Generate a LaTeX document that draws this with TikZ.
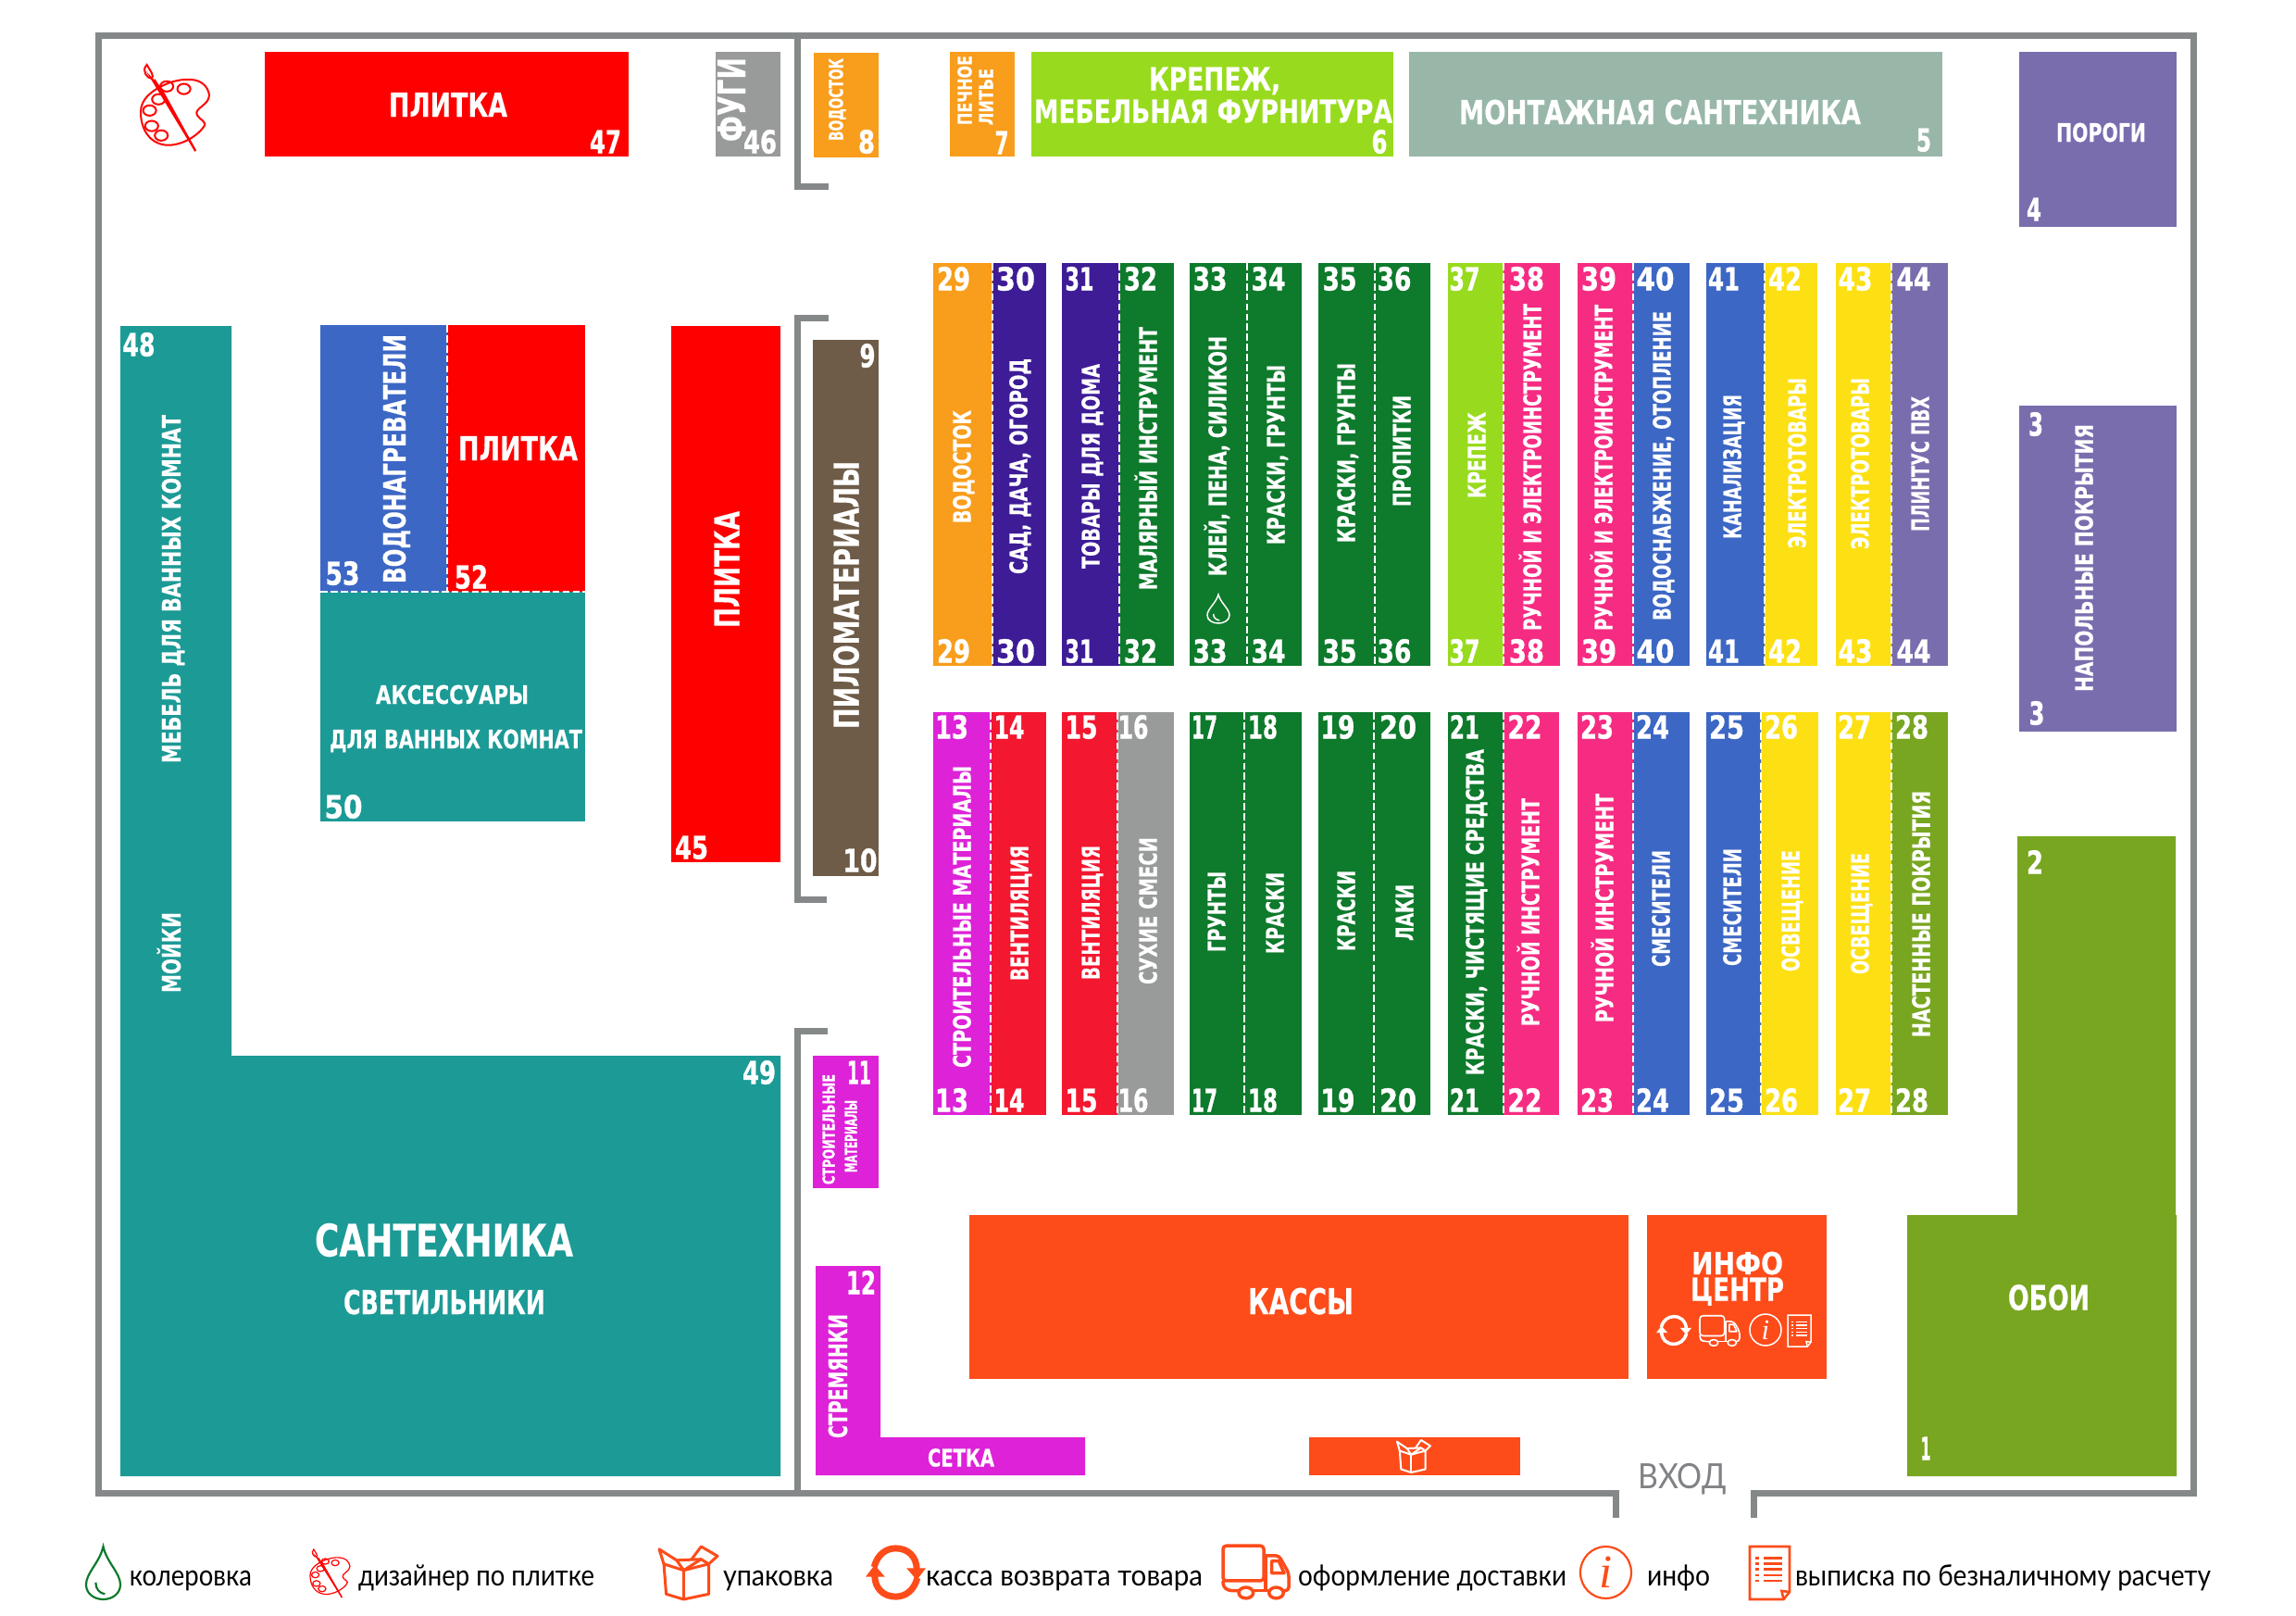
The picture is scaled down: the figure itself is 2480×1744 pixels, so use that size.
\documentclass[tikz,border=0pt]{standalone}
\usepackage{fontspec}
\usepackage{graphicx}
\setmainfont{DejaVu Sans}
\newfontfamily\labf{DejaVu Sans}[BoldFeatures={FakeBold=0.4}]
\newfontfamily\numf{DejaVu Sans}[BoldFeatures={FakeBold=1.2}]
\newfontfamily\legfont{Lato}
\newfontfamily\ifont{Liberation Serif}
\definecolor{cWall}{HTML}{858889}
\definecolor{cOrange}{HTML}{F99D1C}
\definecolor{cPurple}{HTML}{3E1C96}
\definecolor{cGreen}{HTML}{0E7A2C}
\definecolor{cCrimson}{HTML}{F3172F}
\definecolor{cMagenta}{HTML}{DD22D8}
\definecolor{cGrey}{HTML}{999B9A}
\definecolor{cLime}{HTML}{98DB1E}
\definecolor{cPink}{HTML}{F62C82}
\definecolor{cBlue}{HTML}{3C67C4}
\definecolor{cYellow}{HTML}{FCE014}
\definecolor{cViolet}{HTML}{7A6DAE}
\definecolor{cOlive}{HTML}{78A620}
\definecolor{cTeal}{HTML}{1C9A96}
\definecolor{cBrown}{HTML}{6E5C48}
\definecolor{cSea}{HTML}{98B7A8}
\definecolor{cRedOr}{HTML}{FD4C1A}
\definecolor{cRed}{HTML}{FF0000}
\definecolor{cVhod}{HTML}{808285}
\newdimen\pxu \pxu=0.01cm
\newsavebox\lbox
\newcount\nc
\newcommand\capfit[3]{\sbox\lbox{\labf\bfseries #3}\ht\lbox=7.29pt \dp\lbox=0pt \resizebox{#1}{#2}{\usebox\lbox}}
\newcommand\numfit[3]{\sbox\lbox{\numf\bfseries #3}\ht\lbox=7.29pt \dp\lbox=0pt \resizebox{#1}{#2}{\usebox\lbox}}
\newcommand\xfit[3]{\sbox\lbox{\legfont #3}\ht\lbox=5.06pt \dp\lbox=0pt \resizebox{#1}{#2}{\usebox\lbox}}
\newcommand\vfitcap[3]{\sbox\lbox{\legfont #3}\ht\lbox=7.2pt \dp\lbox=0pt \resizebox{#1}{#2}{\usebox\lbox}}
% vertical label: cx, y1, y2, thickness, text
\newcommand\vl[5]{\global\advance\nc by 1
  \node[lab,rotate=90] (t\the\nc) at (#1,{(#2+#3)/2}) {\capfit{\dimexpr\pxu*(#3-#2)\relax}{#4\pxu}{#5}};}
% horizontal label: x1, x2, cy, thickness, text
\newcommand\hl[5]{\global\advance\nc by 1
  \node[lab] (t\the\nc) at ({(#1+#2)/2},#3) {\capfit{\dimexpr\pxu*(#2-#1)\relax}{#4\pxu}{#5}};}
% number: cx, width, cy, text
\newcommand\nn[4]{\global\advance\nc by 1
  \node[lab] (t\the\nc) at (#1,#3) {\numfit{#2\pxu}{25\pxu}{#4}};}
% legend text: x1, x2, text
\newcommand\leg[3]{\global\advance\nc by 1
  \node[lab,text=black] (t\the\nc) at ({(#1+#2)/2},1704) {\xfit{\dimexpr\pxu*(#2-#1)\relax}{16\pxu}{#3}};}
\newcommand\zone[5]{\fill[#5] (#1,#2) rectangle (#3,#4);}
\newcommand\shelf[7]{\fill[#6] (#1,#4) rectangle (#2,#5); \fill[#7] (#2,#4) rectangle (#3,#5);
  \draw[divd] (#2,#4) -- (#2,#5);}
% icons: x1,y1,x2,y2,colour,line width(px)
\newcommand\icondrop[6]{\begin{scope}[shift={(#1,#2)},xscale={#3-#1},yscale={#4-#2},draw=#5,line width=#6\pxu]
  \draw (.5,0) .. controls (.6,.3) and (1,.5) .. (1,.72) .. controls (1,.9) and (.75,1) .. (.5,1)
     .. controls (.25,1) and (0,.9) .. (0,.72) .. controls (0,.5) and (.4,.3) .. (.5,0) -- cycle;
  \draw (.28,.68) .. controls (.28,.8) and (.38,.88) .. (.55,.9);
\end{scope}}
\newcommand\iconpal[6]{\begin{scope}[shift={(#1,#2)},xscale={#3-#1},yscale={#4-#2},draw=#5,line width=#6\pxu]
  \draw (.38,.22) .. controls (.6,.15) and (.95,.12) .. (1,.35) .. controls (1,.47) and (.78,.5) .. (.82,.58)
     .. controls (.86,.64) and (.98,.66) .. (.92,.72) .. controls (.8,.85) and (.55,.95) .. (.35,.93)
     .. controls (.1,.9) and (0,.72) .. (0,.55) .. controls (0,.4) and (.15,.3) .. (.38,.22) -- cycle;
  \foreach \a/\b in {.38/.25,.63/.28,.26/.4,.13/.53,.16/.71,.3/.82}
    \draw (\a,\b) ellipse [x radius=.095,y radius=.06];
  \draw (.09,0) .. controls (.0,.07) and (.1,.16) .. (.16,.16) .. controls (.2,.13) and (.15,.08) .. (.09,0) -- cycle;
  \draw (.16,.16) -- (.8,1) -- (.3,.28) -- cycle;
  \draw (.2,.17) -- (.8,1);
\end{scope}}
\newcommand\iconbox[6]{\begin{scope}[shift={(#1,#2)},xscale={#3-#1},yscale={#4-#2},draw=#5,line width=#6\pxu,line join=round]
  \draw (.08,.33) -- (.42,.45) -- (.85,.33) -- (.85,.9) -- (.42,1) -- (.12,.9) -- cycle;
  \draw (.42,.45) -- (.42,1);
  \draw (.08,.33) -- (0,.05) -- (.3,.26) -- (.72,.24) -- (.85,.33);
  \draw (.55,.25) -- (.72,0) -- (1,.18) -- (.85,.33);
  \draw (.3,.26) -- (.42,.45) -- (.72,.24);
\end{scope}}
\newcommand\iconref[6]{\begin{scope}[shift={(#1,#2)},xscale={#3-#1},yscale={#4-#2},draw=#5,fill=#5,line width=#6\pxu]
  \draw (.14,.4) .. controls (.2,.15) and (.35,.05) .. (.5,.05) .. controls (.7,.05) and (.85,.2) .. (.85,.45);
  \fill (.68,.42) -- (1,.42) -- (.85,.64) -- cycle;
  \draw (.86,.6) .. controls (.8,.85) and (.65,.95) .. (.5,.95) .. controls (.3,.95) and (.15,.8) .. (.15,.55);
  \fill (0,.58) -- (.32,.58) -- (.15,.36) -- cycle;
\end{scope}}
\newcommand\icontruck[6]{\begin{scope}[shift={(#1,#2)},xscale={#3-#1},yscale={#4-#2},draw=#5,line width=#6\pxu,line join=round]
  \draw[rounded corners=1pt] (0,.02) rectangle (.62,.66);
  \draw[rounded corners=1pt] (.65,.2) -- (.85,.2) -- (1,.52) -- (1,.84) -- (.92,.84);
  \draw (.65,.2) -- (.65,.82);
  \draw (.74,.3) -- (.85,.3) -- (.93,.52) -- (.74,.52) -- cycle;
  \draw[rounded corners=1pt] (.24,.84) -- (.08,.84) -- (0,.76) -- (0,.66);
  \draw (.46,.84) -- (.7,.84);
  \draw (.35,.88) ellipse [x radius=.11,y radius=.1];
  \draw (.81,.88) ellipse [x radius=.11,y radius=.1];
\end{scope}}
\newcommand\icondoc[6]{\begin{scope}[shift={(#1,#2)},xscale={#3-#1},yscale={#4-#2},draw=#5,line width=#6\pxu]
  \draw (0,0) -- (1,0) -- (1,.86) -- (.85,1) -- (0,1) -- cycle;
  \draw (1,.86) -- (.8,.84) -- (.85,1);
  \foreach \b in {.22,.32,.43,.54,.65} { \draw (.35,\b) -- (.82,\b); \draw (.14,\b) -- (.24,\b); }
\end{scope}}
\newcommand\iconinfo[6]{\draw[#5,line width=#6\pxu] ({(#1+#3)/2},{(#2+#4)/2}) ellipse [x radius={(#3-#1)/2},y radius={(#4-#2)/2}];
  \global\advance\nc by 1
  \node[lab,text=#5] (t\the\nc) at ({(#1+#3)/2},{(#2+#4)/2}) {\resizebox{!}{\dimexpr\pxu*(#4-#2)*6/10\relax}{\ifont\itshape i}};}
\tikzset{
  lab/.style={inner sep=0pt,outer sep=0pt,text=white,anchor=center},
  wall/.style={draw=cWall,line width=7\pxu,line cap=butt,miter limit=10},
  divd/.style={draw=white,line width=2\pxu,dash pattern=on 2.2pt off .9pt}
}
\begin{document}
\begin{tikzpicture}[x=0.01cm,y=-0.01cm]
\useasboundingbox (0,0) rectangle (2480,1744);
\fill[white] (0,0) rectangle (2480,1744);
% walls
\draw[wall] (1745,1639) -- (1745,1612.5) -- (106.5,1612.5) -- (106.5,38) -- (2369.5,38) -- (2369.5,1612.5) -- (1894,1612.5) -- (1894,1639);
\draw[wall] (861,38) -- (861,201) -- (895,201);
\draw[wall] (895,343.5) -- (861,343.5) -- (861,971.5) -- (893,971.5);
\draw[wall] (894,1113) -- (861,1113) -- (861,1612);
% zones top
\zone{286}{56}{679}{169}{cRed}
\zone{773}{56}{843}{169}{cGrey}
\zone{879}{57}{949}{170}{cOrange}
\zone{1026}{56}{1096}{169}{cOrange}
\zone{1114}{56}{1505}{169}{cLime}
\zone{1522}{56}{2098}{169}{cSea}
\zone{2181}{56}{2351}{245}{cViolet}
\zone{2181}{438}{2351}{790}{cViolet}
% olive L
\fill[cOlive] (2179,903) -- (2350,903) -- (2350,1312) -- (2351,1312) -- (2351,1594) -- (2060,1594) -- (2060,1312) -- (2179,1312) -- cycle;
% teal L
\fill[cTeal] (130,352) -- (250,352) -- (250,1140) -- (843,1140) -- (843,1594) -- (130,1594) -- cycle;
% block
\zone{346}{351}{483}{639}{cBlue}
\zone{483}{351}{632}{639}{cRed}
\zone{346}{639}{632}{887}{cTeal}
\draw[divd] (483,351) -- (483,638);
\draw[divd] (346,639) -- (632,639);
\zone{725}{352}{843}{931}{cRed}
\zone{878}{367}{949}{946}{cBrown}
\zone{878}{1140}{949}{1283}{cMagenta}
\fill[cMagenta] (881,1367) -- (951,1367) -- (951,1552) -- (1172,1552) -- (1172,1593) -- (881,1593) -- cycle;
\zone{1047}{1312}{1759}{1489}{cRedOr}
\zone{1779}{1312}{1973}{1489}{cRedOr}
\zone{1414}{1552}{1642}{1593}{cRedOr}
% shelves row 1
\shelf{1008}{1072}{1130}{284}{719}{cOrange}{cPurple}
\shelf{1147}{1209}{1268}{284}{719}{cPurple}{cGreen}
\shelf{1285}{1347}{1406}{284}{719}{cGreen}{cGreen}
\shelf{1424}{1485}{1545}{284}{719}{cGreen}{cGreen}
\shelf{1564}{1624}{1685}{284}{719}{cLime}{cPink}
\shelf{1704}{1764}{1825}{284}{719}{cPink}{cBlue}
\shelf{1843}{1906}{1963}{284}{719}{cBlue}{cYellow}
\shelf{1983}{2043}{2104}{284}{719}{cYellow}{cViolet}
% shelves row 2
\shelf{1008}{1070}{1130}{769}{1204}{cMagenta}{cCrimson}
\shelf{1147}{1207}{1268}{769}{1204}{cCrimson}{cGrey}
\shelf{1285}{1344}{1406}{769}{1204}{cGreen}{cGreen}
\shelf{1424}{1484}{1545}{769}{1204}{cGreen}{cGreen}
\shelf{1564}{1624}{1684}{769}{1204}{cGreen}{cPink}
\shelf{1704}{1764}{1825}{769}{1204}{cPink}{cBlue}
\shelf{1843}{1902}{1964}{769}{1204}{cBlue}{cYellow}
\shelf{1983}{2043}{2104}{769}{1204}{cYellow}{cOlive}
% numbers rows
\foreach \n/\c/\w in {29/1030/36,30/1097/42,31/1166/31,32/1232/36,33/1307/37,34/1370/37,35/1447/37,36/1506/37,37/1582/33,38/1649/38,39/1727/38,40/1788/41,41/1862/34,42/1928/36,43/2004/37,44/2067/37}{
  \nn{\c}{\w}{301}{\n}
  \nn{\c}{\w}{703}{\n}
}
\foreach \n/\c/\w in {13/1028/36,14/1090/33,15/1168/35,16/1224/33,17/1301/28,18/1364/32,19/1445/37,20/1510/40,21/1582/32,22/1647/37,23/1725/36,24/1785/36,25/1865/38,26/1924/36,27/2003/36,28/2065/36}{
  \nn{\c}{\w}{785}{\n}
  \nn{\c}{\w}{1188}{\n}
}
% labels row 1
\vl{1039}{443}{565}{19}{ВОДОСТОК}
\vl{1100}{387}{620}{19}{САД, ДАЧА, ОГОРОД}
\vl{1178}{393}{614}{19}{ТОВАРЫ ДЛЯ ДОМА}
\vl{1240}{353}{637}{19}{МАЛЯРНЫЙ ИНСТРУМЕНТ}
\vl{1315}{363}{622}{19}{КЛЕЙ, ПЕНА, СИЛИКОН}
\vl{1378}{394}{588}{19}{КРАСКИ, ГРУНТЫ}
\vl{1454}{392}{586}{19}{КРАСКИ, ГРУНТЫ}
\vl{1514}{427}{547}{19}{ПРОПИТКИ}
\vl{1595}{445}{538}{19}{КРЕПЕЖ}
\vl{1655}{328}{681}{19}{РУЧНОЙ И ЭЛЕКТРОИНСТРУМЕНТ}
\vl{1732}{329}{681}{19}{РУЧНОЙ И ЭЛЕКТРОИНСТРУМЕНТ}
\vl{1795}{336}{670}{19}{ВОДОСНАБЖЕНИЕ, ОТОПЛЕНИЕ}
\vl{1871}{426}{582}{19}{КАНАЛИЗАЦИЯ}
\vl{1941}{408}{592}{19}{ЭЛЕКТРОТОВАРЫ}
\vl{2009}{408}{593}{19}{ЭЛЕКТРОТОВАРЫ}
\vl{2074}{428}{574}{19}{ПЛИНТУС ПВХ}
% labels row 2
\vl{1039}{827}{1153}{19}{СТРОИТЕЛЬНЫЕ МАТЕРИАЛЫ}
\vl{1101}{913}{1059}{19}{ВЕНТИЛЯЦИЯ}
\vl{1178}{913}{1058}{19}{ВЕНТИЛЯЦИЯ}
\vl{1240}{904}{1063}{19}{СУХИЕ СМЕСИ}
\vl{1314}{941}{1028}{19}{ГРУНТЫ}
\vl{1377}{942}{1030}{19}{КРАСКИ}
\vl{1454}{940}{1027}{19}{КРАСКИ}
\vl{1517}{955}{1016}{19}{ЛАКИ}
\vl{1593}{809}{1161}{19}{КРАСКИ, ЧИСТЯЩИЕ СРЕДСТВА}
\vl{1653}{862}{1108}{19}{РУЧНОЙ ИНСТРУМЕНТ}
\vl{1733}{857}{1104}{19}{РУЧНОЙ ИНСТРУМЕНТ}
\vl{1794}{918}{1044}{19}{СМЕСИТЕЛИ}
\vl{1871}{916}{1043}{19}{СМЕСИТЕЛИ}
\vl{1934}{918}{1049}{19}{ОСВЕЩЕНИЕ}
\vl{2009}{921}{1052}{19}{ОСВЕЩЕНИЕ}
\vl{2075}{854}{1120}{19}{НАСТЕННЫЕ ПОКРЫТИЯ}
% other labels
\hl{420}{548}{113}{26}{ПЛИТКА}
\vl{790}{62}{153}{30}{ФУГИ}
\vl{903}{63}{152}{15}{ВОДОСТОК}
\vl{1042}{60}{135}{15}{ПЕЧНОЕ}
\vl{1065}{74}{135}{15}{ЛИТЬЕ}
\hl{1241}{1383}{85}{25}{КРЕПЕЖ,}
\hl{1117}{1504}{120}{25}{МЕБЕЛЬНАЯ ФУРНИТУРА}
\hl{1576}{2010}{121}{26}{МОНТАЖНАЯ САНТЕХНИКА}
\hl{2221}{2318}{143}{20}{ПОРОГИ}
\vl{2251}{458}{747}{19}{НАПОЛЬНЫЕ ПОКРЫТИЯ}
\vl{185}{448}{824}{20}{МЕБЕЛЬ ДЛЯ ВАННЫХ КОМНАТ}
\vl{185}{985}{1072}{20}{МОЙКИ}
\vl{426}{361}{630}{24}{ВОДОНАГРЕВАТЕЛИ}
\hl{495}{624}{484}{26}{ПЛИТКА}
\vl{785}{552}{678}{27}{ПЛИТКА}
\vl{914}{498}{787}{27}{ПИЛОМАТЕРИАЛЫ}
\hl{406}{571}{750}{20}{АКСЕССУАРЫ}
\hl{356}{629}{798}{20}{ДЛЯ ВАННЫХ КОМНАТ}
\hl{340}{619}{1339}{35}{САНТЕХНИКА}
\hl{371}{589}{1406}{26}{СВЕТИЛЬНИКИ}
\vl{895}{1160}{1279}{13}{СТРОИТЕЛЬНЫЕ}
\vl{919}{1188}{1266}{13}{МАТЕРИАЛЫ}
\vl{905}{1419}{1553}{20}{СТРЕМЯНКИ}
\hl{1002}{1074}{1574}{19}{СЕТКА}
\hl{1348}{1462}{1405}{28}{КАССЫ}
\hl{1827}{1926}{1364}{24}{ИНФО}
\hl{1826}{1927}{1392}{25}{ЦЕНТР}
\hl{2169}{2257}{1401}{27}{ОБОИ}
% other numbers
\nn{654}{34}{153}{47}
\nn{821}{36}{153}{46}
\nn{936}{18}{153}{8}
\nn{1082}{15}{154}{7}
\nn{1490}{17}{153}{6}
\nn{2078}{16}{151}{5}
\nn{2197}{16}{226}{4}
\nn{2199}{16}{458}{3}
\nn{2200}{17}{770}{3}
\nn{2198}{18}{931}{2}
\nn{2080}{11}{1564}{1}
\nn{150}{35}{372}{48}
\nn{820}{36}{1158}{49}
\nn{370}{37}{619}{53}
\nn{509}{36}{623}{52}
\nn{371}{41}{871}{50}
\nn{747}{36}{915}{45}
\nn{937}{17}{384}{9}
\nn{929}{37}{929}{10}
\nn{928}{26}{1158}{11}
\nn{930}{32}{1385}{12}
% ВХОД
\global\advance\nc by 1
\node[lab,text=cVhod] (t\the\nc) at (1817,1594) {\vfitcap{95\pxu}{27\pxu}{ВХОД}};
% icons on the plan
\iconpal{152}{70}{226}{163}{cRed}{2}
\icondrop{1304}{642}{1328}{673}{white}{1.5}
\iconbox{1509}{1555}{1545}{1590}{white}{2}
\iconref{1789}{1420}{1827}{1453}{white}{3.5}
\icontruck{1836}{1420}{1879}{1454}{white}{1.6}
\iconinfo{1890}{1419}{1924}{1453}{white}{1.5}
\icondoc{1931}{1420}{1956}{1454}{white}{1.5}
% legend
\icondrop{93}{1670}{130}{1727}{cGreen}{2.2}
\leg{140}{272}{колеровка}
\iconpal{335}{1673}{378}{1725}{cRed}{1.2}
\leg{387}{642}{дизайнер по плитке}
\iconbox{712}{1670}{775}{1727}{cRedOr}{3}
\leg{781}{900}{упаковка}
\iconref{935}{1669}{1000}{1727}{cRedOr}{7}
\leg{1000}{1299}{касса возврата товара}
\icontruck{1321}{1668}{1392}{1727}{cRedOr}{3.5}
\leg{1402}{1692}{оформление доставки}
\iconinfo{1707}{1670}{1762}{1726}{cRedOr}{2.2}
\leg{1779}{1847}{инфо}
\icondoc{1890}{1670}{1933}{1727}{cRedOr}{2.6}
\leg{1939}{2388}{выписка по безналичному расчету}
\end{tikzpicture}
\end{document}
